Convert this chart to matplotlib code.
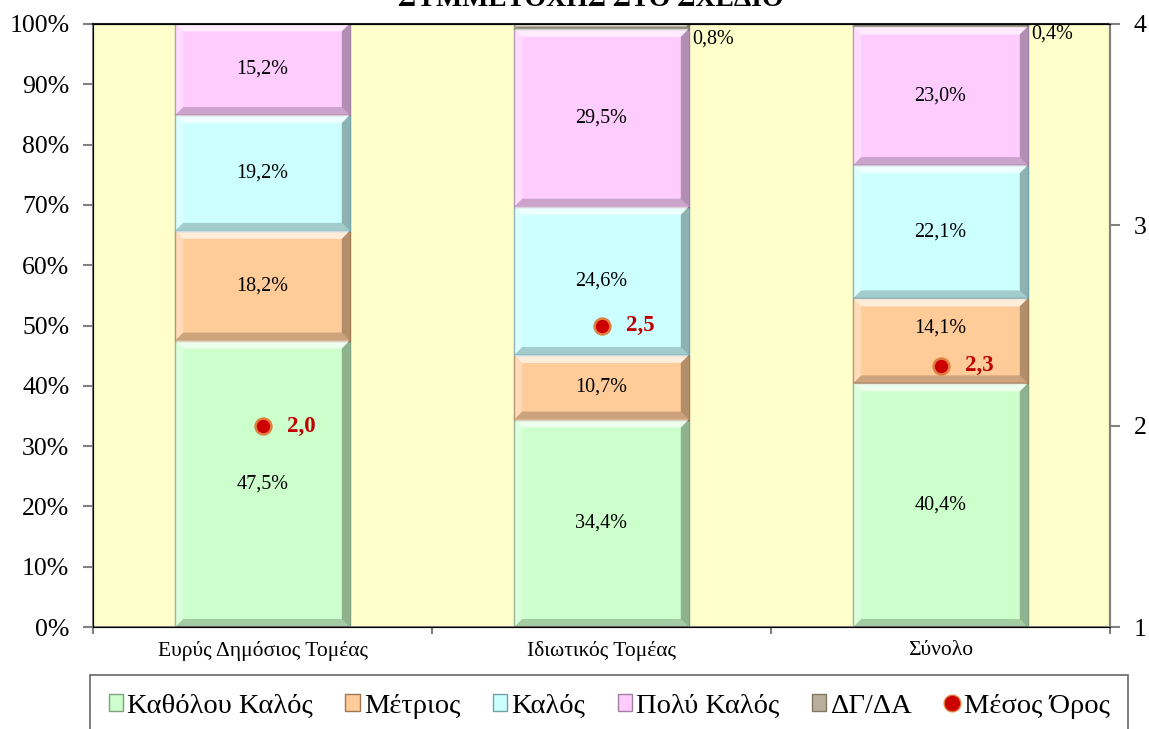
import matplotlib
matplotlib.use("Agg")
import matplotlib.pyplot as plt
import numpy as np
from matplotlib.lines import Line2D
from matplotlib.patches import Patch, Polygon

categories = ["Ευρύς Δημόσιος Τομέας", "Ιδιωτικός Τομέας", "Σύνολο"]
series_names = ["Καθόλου Καλός", "Μέτριος", "Καλός", "Πολύ Καλός", "ΔΓ/ΔΑ"]
kathlou = [47.5, 34.4, 40.4]
metrios = [18.2, 10.7, 14.1]
kalos = [19.2, 24.6, 22.1]
poly_kalos = [15.2, 29.5, 23.0]
dg_da = [0.0, 0.8, 0.4]
mean_vals = [2.0, 2.5, 2.3]
mean_name = "Μέσος Όρος"
colors = ["#CCFFCC", "#FFCC99", "#CCFFFF", "#FFCCFF", "#B8B09A"]
edge_colors = ["#7FA07F", "#A07850", "#70A0A8", "#A080A0", "#807860"]

plt.rcParams['font.family'] = ['Liberation Serif', 'DejaVu Serif']

fig = plt.figure(figsize=(11.49, 7.29), dpi=100)
ax = fig.add_axes([93/1149, 1-627/729, (1110-93)/1149, (627-24)/729])
ax.set_facecolor("#FFFFCC")

x = np.arange(len(categories))
w = 0.515
ax.set_xlim(-0.5, 2.5)
ax.set_ylim(0, 100)
# bevel size (approx 8 px) expressed in data units of this axes
bx = 8 * 3.0 / 1017
by = 8 * 100.0 / 603

def bevel(xc, y0, h):
    x0, x1 = xc - w/2, xc + w/2
    y1 = y0 + h
    b_y = min(by, h/2)
    b_x = bx * b_y / by
    polys = [
        ([(x0, y1), (x1, y1), (x1-b_x, y1-b_y), (x0+b_x, y1-b_y)], 'white', 0.65),
        ([(x0, y0), (x0, y1), (x0+b_x, y1-b_y), (x0+b_x, y0+b_y)], 'white', 0.3),
        ([(x1, y0), (x1, y1), (x1-b_x, y1-b_y), (x1-b_x, y0+b_y)], 'black', 0.3),
        ([(x0, y0), (x1, y0), (x1-b_x, y0+b_y), (x0+b_x, y0+b_y)], 'black', 0.2),
    ]
    for pts, c, a in polys:
        ax.add_patch(Polygon(pts, closed=True, facecolor=c, alpha=a, edgecolor='none', zorder=3))

series = [kathlou, metrios, kalos, poly_kalos, dg_da]
bottom = np.zeros(len(categories))
for s, vals in enumerate(series):
    vals = np.array(vals)
    ax.bar(x, vals, w, bottom=bottom, color=colors[s], edgecolor=edge_colors[s],
           linewidth=1.0, zorder=2)
    for i, v in enumerate(vals):
        if v <= 0:
            continue
        bevel(x[i], bottom[i], v)
        lab = f"{v:.1f}%".replace(".", ",")
        if v < 2:
            ax.text(x[i] + w/2 + 0.01, 97.5 if i == 1 else 98.3, lab, ha='left', va='center',
                    fontsize=14.5, zorder=5)
        else:
            ax.text(x[i], bottom[i] + v/2 + (0 if s != 1 or i != 2 else 2.2), lab,
                    ha='center', va='center', fontsize=14.5, zorder=5)
    bottom += vals

ax.set_yticks(np.arange(0, 101, 10))
ax.set_yticklabels([f"{t}%" for t in range(0, 101, 10)], fontsize=18.5)
ax.set_xticks(x)
ax.set_xticklabels(categories, fontsize=15.5)
ax.tick_params(axis='x', length=0, pad=10)
ax.set_xticks([-0.5, 0.5, 1.5, 2.5], minor=True)
ax.tick_params(axis='x', which='minor', length=5, color='#808080', width=1.5)
ax.tick_params(axis='y', length=7, color='#808080', width=1.5, pad=10)
for sp in ['left', 'right', 'bottom']:
    ax.spines[sp].set_color('#808080')
    ax.spines[sp].set_linewidth(1.5)
ax.spines['top'].set_color('#202020')
ax.spines['top'].set_linewidth(1.5)

ax2 = ax.twinx()
ax2.set_ylim(1, 4)
ax2.set_yticks([1, 2, 3, 4])
ax2.set_yticklabels(["1", "2", "3", "4"], fontsize=18.5)
ax2.tick_params(axis='y', length=7, color='#808080', width=1.5, pad=10)
ax2.spines['right'].set_color('#808080')
ax2.spines['right'].set_linewidth(1.5)
ax2.scatter(x, mean_vals, s=130, color='#CC0000', edgecolor='#E08040', linewidth=1.8, zorder=6)
for i, v in enumerate(mean_vals):
    ax2.text(x[i] + 0.072, v, f"{v:.1f}".replace(".", ","), color='#C00000',
             fontsize=16.5, fontweight='bold', ha='left', va='center', zorder=7)

fig.text(591/1149, 1 - 6/729, "ΣΥΜΜΕΤΟΧΗΣ ΣΤΟ ΣΧΕΔΙΟ", ha='center', va='baseline',
         fontsize=20, fontweight='bold')

handles = [Patch(facecolor=colors[k], edgecolor=edge_colors[k], label=series_names[k]) for k in range(5)]
handles.append(Line2D([], [], marker='o', linestyle='none', markersize=12,
                      markerfacecolor='#CC0000', markeredgecolor='#E08040', label=mean_name))
top_y = 1 - 675/729
leg = fig.legend(handles=handles, loc='upper left',
                 bbox_to_anchor=(90/1149, top_y - 0.2, (1128-90)/1149, 0.2),
                 mode='expand', ncol=6, fontsize=20.5, frameon=True, fancybox=False,
                 edgecolor='#404040', handlelength=0.5, handleheight=0.5, handletextpad=0.15,
                 columnspacing=0.6, borderpad=0.65, borderaxespad=0)
leg.get_frame().set_linewidth(1.2)

fig.savefig("out.png", dpi=100)
